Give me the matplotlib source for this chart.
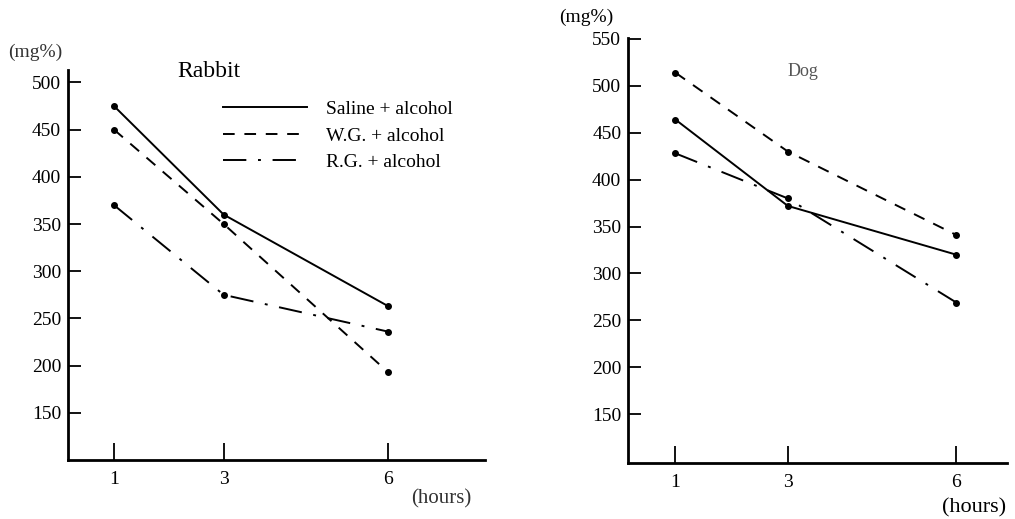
import matplotlib
matplotlib.use("Agg")
import matplotlib.pyplot as plt

plt.rcParams['font.family'] = ['Liberation Serif', 'DejaVu Serif']

hours = [1, 3, 6]
series_names = ["Saline + alcohol", "W.G. + alcohol", "R.G. + alcohol"]

rabbit_saline = [475, 360, 263]
rabbit_wg = [450, 350, 193]
rabbit_rg = [370, 275, 236]

dog_saline = [464, 372, 320]
dog_wg = [514, 430, 341]
dog_rg = [428, 380, 269]

rabbit_yticks = [150, 200, 250, 300, 350, 400, 450, 500]
dog_yticks = [150, 200, 250, 300, 350, 400, 450, 500, 550]
xticks = [1, 3, 6]

styles = [
    dict(linestyle='-'),
    dict(linestyle=(0, (6, 5))),
    dict(linestyle=(0, (12, 6, 1.5, 6))),
]

fig = plt.figure(figsize=(10.15, 5.19), dpi=100)

def style_axes(ax, yticks):
    for s in ['top', 'right']:
        ax.spines[s].set_visible(False)
    for s in ['left', 'bottom']:
        ax.spines[s].set_linewidth(2.0)
    ax.set_yticks(yticks)
    ax.set_xticks(xticks)
    ax.tick_params(axis='y', direction='in', length=9, width=1.3, labelsize=14, pad=5)
    ax.tick_params(axis='x', direction='in', length=12, width=1.3, labelsize=14, pad=8)

# Left: Rabbit
ax1 = fig.add_axes([0.067, 0.1137, 0.411, 0.751])
for vals, name, st in zip([rabbit_saline, rabbit_wg, rabbit_rg], series_names, styles):
    ax1.plot(hours, vals, color='black', lw=1.4, label=name, **st)
    ax1.plot(hours, vals, 'o', color='black', ms=4, label='_nolegend_')
ax1.set_xlim(0.16, 7.77)
ax1.set_ylim(100, 513)
style_axes(ax1, rabbit_yticks)
leg = ax1.legend(loc='upper left', bbox_to_anchor=(0.33, 0.967), frameon=False,
                 fontsize=14, handlelength=4.3, handletextpad=1.0, labelspacing=0.45)
fig.text(0.175, 0.862, "Rabbit", fontsize=17, ha='left', va='center')
fig.text(0.008, 0.9, "(mg%)", fontsize=14, ha='left', va='center', color='#333333')
fig.text(0.405, 0.038, "(hours)", fontsize=15, ha='left', va='center', color='#333333')

# Right: Dog
ax2 = fig.add_axes([0.619, 0.108, 0.373, 0.8188])
for vals, name, st in zip([dog_saline, dog_wg, dog_rg], series_names, styles):
    ax2.plot(hours, vals, color='black', lw=1.4, label=name, **st)
    ax2.plot(hours, vals, 'o', color='black', ms=4, label='_nolegend_')
ax2.set_xlim(0.16, 6.9)
ax2.set_ylim(98, 551)
style_axes(ax2, dog_yticks)
fig.text(0.776, 0.863, "Dog", fontsize=13, ha='left', va='center', color='#555555')
fig.text(0.551, 0.966, "(mg%)", fontsize=14, ha='left', va='center')
fig.text(0.928, 0.022, "(hours)", fontsize=16, ha='left', va='center')

fig.savefig("out.png", dpi=100)
